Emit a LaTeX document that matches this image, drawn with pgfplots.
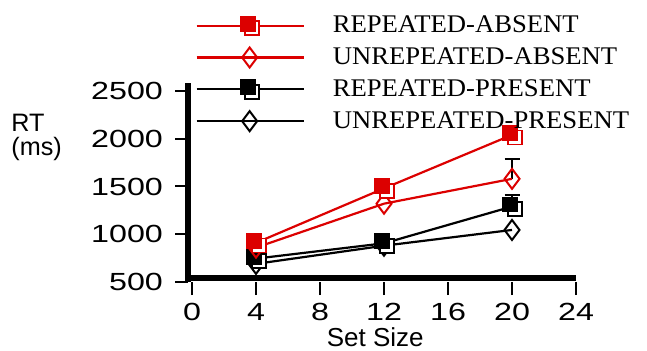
\documentclass[border=0pt]{standalone}
\usepackage{fontspec}
\setmainfont{Liberation Serif}
\newfontfamily\ticksf[FakeStretch=1.3]{Liberation Sans}
\newfontfamily\labsf{Liberation Sans}
\newfontfamily\legfont[FakeStretch=1.05]{Liberation Serif}
\usepackage{pgfplots}
\pgfplotsset{compat=1.18}
\definecolor{myred}{RGB}{220,0,0}
\pgfdeclareplotmark{dsq}{%
  \begin{pgfscope}%
  \pgfsetfillcolor{white}%
  \pgfpathrectangle{\pgfqpoint{-2.2pt}{-4.8pt}}{\pgfqpoint{7pt}{7pt}}%
  \pgfusepathqfillstroke
  \end{pgfscope}%
  \pgfpathrectangle{\pgfqpoint{-4.5pt}{-2.5pt}}{\pgfqpoint{7pt}{7pt}}%
  \pgfusepathqfillstroke
}
\begin{document}
\begin{tikzpicture}
\useasboundingbox (0,0) rectangle (323.5pt,175pt);
\begin{axis}[
  at={(94pt,34pt)}, anchor=south west,
  scale only axis, width=194pt, height=99.5pt,
  xmin=-0.25, xmax=24, ymin=500, ymax=2583,
  separate axis lines,
  axis x line*=bottom, axis y line*=left,
  axis line style={line width=2.6pt, -},
  every outer x axis line/.append style={-},
  every outer y axis line/.append style={-},
  x axis line style={yshift=2pt},
  xtick={0,4,8,12,16,20,24}, ytick={500,1000,1500,2000,2500},
  tick align=outside, major tick length=6.5pt,
  tick style={line width=1pt, black},
  /pgf/number format/assume math mode=true,
  /pgf/number format/1000 sep={},
  ticklabel style={font=\ticksf\fontsize{12.4}{14}\selectfont},
  yticklabel style={xshift=-2.5pt},
  xticklabel style={yshift=-0.5pt},
  xlabel={Set Size},
  xlabel style={font=\labsf\fontsize{13}{14}\selectfont, at={(rel axis cs:0.4825,0)}, anchor=north, inner sep=0pt, yshift=-22.5pt},
  clip=false,
  reverse legend,
  legend cell align=left,
  legend style={at={(0.003,1.38)}, anchor=north west, draw=none, fill=none,
    font=\legfont\fontsize{12.7}{14}\selectfont, column sep=12pt, row sep=2pt},
  legend image code/.code={\draw[#1, mark repeat=2, mark phase=2] plot coordinates {(0pt,0pt) (26.5pt,0pt) (53.5pt,0pt)};},
]
% error bars (drawn first, behind markers)
\addplot[draw=none, forget plot, error bars/.cd, y dir=plus, y explicit,
  error bar style={black, line width=1pt},
  error mark options={black, rotate=90, mark size=3.75pt, line width=1pt}]
  coordinates {(20,1580) +- (0,210)};
\addplot[draw=none, forget plot, error bars/.cd, y dir=plus, y explicit,
  error bar style={black, line width=1pt},
  error mark options={black, rotate=90, mark size=3.75pt, line width=1pt}]
  coordinates {(20,1290) +- (0,120)};
% series
\addplot[black, line width=1.1pt, mark=diamond, mark size=5pt,
  mark options={fill=white, line width=1pt, solid}]
  coordinates {(4,690) (12,880) (20,1045)};
\addlegendentry{UNREPEATED-PRESENT}
\addplot[black, line width=1.1pt, mark=dsq,
  mark options={fill=black, line width=0.9pt, solid}]
  coordinates {(4,745) (12,905) (20,1290)};
\addlegendentry{REPEATED-PRESENT}
\addplot[myred, line width=1.1pt, mark=diamond, mark size=5pt,
  mark options={fill=white, line width=1pt, solid}]
  coordinates {(4,860) (12,1320) (20,1580)};
\addlegendentry{UNREPEATED-ABSENT}
\addplot[myred, line width=1.1pt, mark=dsq,
  mark options={fill=myred, line width=0.9pt, solid}]
  coordinates {(4,910) (12,1480) (20,2040)};
\addlegendentry{REPEATED-ABSENT}
\end{axis}
\node[anchor=north west, inner sep=0pt, align=left, font=\labsf\fontsize{12.6}{12}\selectfont] at (5.5pt,118pt) {RT\\(ms)};
\end{tikzpicture}
\end{document}
